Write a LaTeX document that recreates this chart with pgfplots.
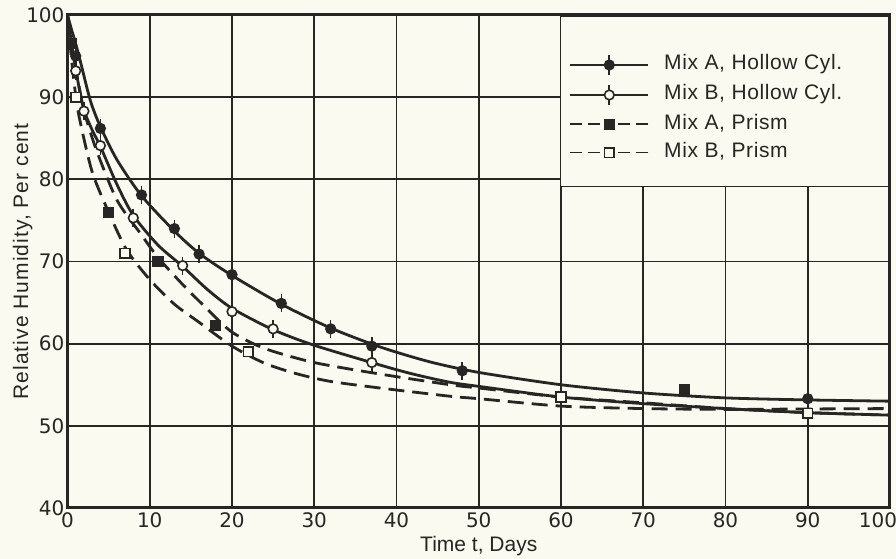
\documentclass[border=0pt]{standalone}
\usepackage{fontspec}
\setmainfont{Liberation Sans}
\newfontfamily\tickfont{DejaVu Sans}
\usepackage{pgfplots}
\pgfplotsset{compat=1.18}

\definecolor{ink}{RGB}{38,38,36}
\definecolor{paper}{RGB}{250,250,240}

\pgfplotsset{
  curve/.style={ink, line width=1.4pt, smooth, tension=0.45, mark=none, forget plot},
  dashcurve/.style={curve, dash pattern=on 8pt off 4pt},
  solidleg/.style={legend image code/.code={
      \draw[ink,line width=0.9pt] (0pt,0pt) -- (39pt,0pt);
      \draw[ink,line width=0.8pt] (19.5pt,-5pt) -- (19.5pt,5pt);
      \draw[##1] plot coordinates {(19.5pt,0pt)};}},
  dashleg/.style={legend image code/.code={
      \draw[ink,line width=0.9pt,dash pattern=on 6pt off 3pt] (0pt,0pt) -- (19.5pt,0pt);
      \draw[ink,line width=0.9pt,dash pattern=on 6pt off 3pt] (39pt,0pt) -- (19.5pt,0pt);
      \draw[##1] plot coordinates {(19.5pt,0pt)};}},
}
\newcommand\entry[1]{\makebox[108pt][l]{#1}}

\begin{document}
\begin{tikzpicture}
% paper sheet behind the chart (axis box sits with its south west corner at the origin)
\fill[paper] (-33.75pt,-25.5pt) rectangle (414.25pt,254pt);
\begin{axis}[
  name=ax, scale only axis,
  width=411.25pt, height=246.5pt,
  xmin=0, xmax=100, ymin=40, ymax=100,
  xtick={0,10,...,90}, extra x ticks={100},
  extra x tick style={xticklabel style={xshift=-6pt}},
  ytick={40,50,...,100},
  grid=major, major grid style={ink, line width=0.9pt},
  major tick length=0pt,
  axis line style={ink, line width=1.5pt},
  /pgf/number format/assume math mode=true,
  tick label style={font=\tickfont\fontsize{10}{12}\selectfont, text=ink},
  xticklabel style={yshift=1pt},
  yticklabel style={xshift=2pt},
  every axis x label/.style={at={(axis description cs:0.5,-0.0892)}, anchor=base,
      font=\fontsize{10.5}{12}\selectfont, text=ink},
  every axis y label/.style={at={(axis description cs:-0.048,0.5)}, rotate=90, anchor=base,
      font=\fontsize{10.5}{12}\selectfont\addfontfeatures{LetterSpace=5}, text=ink},
  xlabel={Time t, Days},
  ylabel={Relative Humidity, Per cent},
  legend style={at={(1,1)}, anchor=north east, fill=paper, draw=ink, line width=0.8pt,
      inner xsep=4.5pt, inner ysep=12pt, column sep=7.5pt, row sep=4.2pt,
      nodes={inner sep=0pt, text height=7.5pt, text depth=2.5pt, text=ink,
             font=\fontsize{10.5}{12}\selectfont\addfontfeatures{LetterSpace=3}}},
  legend cell align=left,
]

% fitted drying curves
\addplot[curve] coordinates {
 (0,100) (0.5,98.2) (1,96.5) (1.5,94.6) (2,92.6) (2.5,90.6) (3,88.9) (4,86.4)
 (6,82.4) (9,78.0) (13,73.7) (16,71.0) (20,68.3) (26,64.8) (32,61.9) (38,59.6)
 (44,57.8) (50,56.5) (60,55.0) (70,54.0) (80,53.4) (90,53.15) (100,53.0)};
\addplot[curve] coordinates {
 (0,100) (0.5,96.5) (1,93.4) (1.5,90.7) (2,88.4) (3,86.0) (4,84.0) (6,79.4)
 (8,75.6) (11,72.0) (14,69.4) (17,66.6) (20,64.3) (25,61.7) (30,59.8) (38,57.4)
 (42,56.3) (46.5,55.3) (50,54.8) (60,53.5) (70,52.7) (80,52.1) (90,51.6) (100,51.3)};
\addplot[dashcurve] coordinates {
 (0,100) (0.5,96.5) (1,93.5) (2,88.4) (3.5,83.6) (6,77.5) (8.8,73.5) (11,70.5)
 (14,67.2) (17,64.2) (20,61.4) (24,59.4) (30,57.7) (38,56.3) (46.5,55.0) (50,54.6)
 (60,53.5) (70,52.8) (80,52.1) (90,51.6) (100,51.3)};
\addplot[dashcurve] coordinates {
 (0,100) (0.5,94.5) (1,90.2) (1.5,87.2) (3,80.9) (5,76.0) (7.2,71.4) (10,67.8)
 (13,64.8) (16,62.6) (20,59.7) (24,57.6) (28,56.3) (32,55.4) (38,54.6) (46.5,53.6)
 (50,53.3) (60,52.4) (70,52.1) (80,52.0) (90,52.05) (100,52.1)};

% spacer row at the top of the key
\addlegendimage{empty legend}
\addlegendentry[text height=3pt, text depth=0pt]{}

% measured points
\addplot[solidleg, only marks, mark=*, mark size=2.4pt, color=ink,
  mark options={fill=ink, line width=0.8pt},
  error bars/.cd, y dir=both, y fixed=1.1, error mark=none,
  error bar style={ink, line width=0.8pt}]
  coordinates {(1,95) (4,86.2) (9,78.1) (13,74) (16,70.9) (20,68.4) (26,64.9)
               (32,61.8) (37,59.7) (48,56.7) (90,53.3)};
\addlegendentry{\entry{Mix A, Hollow Cyl.}}
\addplot[solidleg, only marks, mark=*, mark size=2.4pt, color=ink,
  mark options={fill=paper, line width=0.8pt},
  error bars/.cd, y dir=both, y fixed=1.1, error mark=none,
  error bar style={ink, line width=0.8pt}]
  coordinates {(1,93.2) (2,88.3) (4,84.1) (8,75.3) (14,69.5) (20,63.9) (25,61.8) (37,57.7)};
\addlegendentry{\entry{Mix B, Hollow Cyl.}}
\addplot[dashleg, only marks, mark=square*, mark size=2.4pt, color=ink,
  mark options={fill=ink, line width=0.8pt}]
  coordinates {(0.5,96.5) (5,76) (11,70) (18,62.2) (75,54.4)};
\addlegendentry{\entry{Mix A, Prism}}
\addplot[dashleg, only marks, mark=square*, mark size=2.4pt, color=ink,
  mark options={fill=paper, line width=0.8pt}]
  coordinates {(1,90) (7,71) (22,59) (60,53.5) (90,51.5)};
\addlegendentry{\entry{Mix B, Prism}}
\end{axis}
\pgfresetboundingbox
\path ([xshift=-33.75pt,yshift=-25.5pt]ax.south west) rectangle ([xshift=3pt,yshift=7.5pt]ax.north east);
\end{tikzpicture}
\end{document}
